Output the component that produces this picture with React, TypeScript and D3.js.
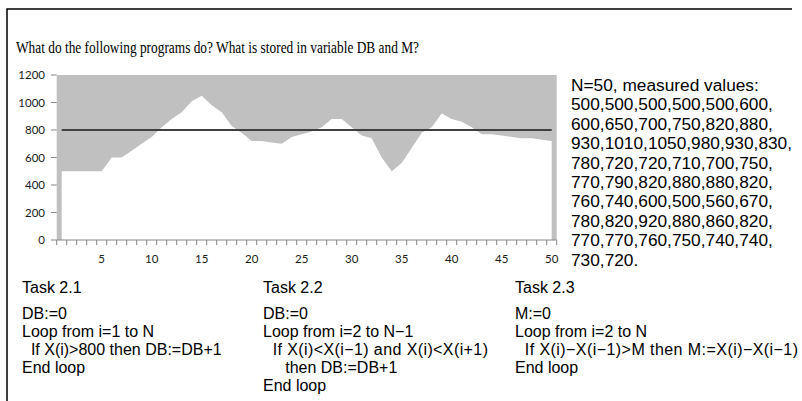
import React, { useEffect, useRef } from 'react';
import * as d3 from 'd3';

// measured values X(1..N)
const values = [
  500, 500, 500, 500, 500, 600,
  600, 650, 700, 750, 820, 880,
  930, 1010, 1050, 980, 930, 830,
  780, 720, 720, 710, 700, 750,
  770, 790, 820, 880, 880, 820,
  760, 740, 600, 500, 560, 670,
  780, 820, 920, 880, 860, 820,
  770, 770, 760, 750, 740, 740,
  730, 720,
];
const threshold = 800;
const yTicks = [0, 200, 400, 600, 800, 1000, 1200];
const xTickLabels = [5, 10, 15, 20, 25, 30, 35, 40, 45, 50];

const title = 'What do the following programs do? What is stored in variable DB and M?';

const tasks = [
  { name: 'Task 2.1', lines: ['DB:=0', 'Loop from i=1 to N', '  If X(i)>800 then DB:=DB+1', 'End loop'] },
  { name: 'Task 2.2', lines: ['DB:=0', 'Loop from i=2 to N\u22121', '  If X(i)<X(i\u22121) and X(i)<X(i+1)', '     then DB:=DB+1', 'End loop'] },
  { name: 'Task 2.3', lines: ['M:=0', 'Loop from i=2 to N', '  If X(i)\u2212X(i\u22121)>M then M:=X(i)\u2212X(i\u22121)', 'End loop'] },
];
// the long condition lines run a little wider in the original
const wideLines: Record<string, number> = {
  '  If X(i)<X(i\u22121) and X(i)<X(i+1)': 225,
  '  If X(i)\u2212X(i\u22121)>M then M:=X(i)\u2212X(i\u22121)': 283,
};

export default function App() {
  const ref = useRef<SVGSVGElement>(null);

  useEffect(() => {
    const svg = d3.select(ref.current);
    svg.selectAll('*').remove();

    // frame
    svg.append('path')
      .attr('d', 'M7,401V9H792')
      .attr('fill', 'none')
      .attr('stroke', '#000')
      .attr('stroke-width', 1.5);

    svg.append('text')
      .attr('x', 16).attr('y', 53)
      .attr('font-family', '"Liberation Serif", "Times New Roman", serif')
      .attr('font-size', 16.5)
      .attr('textLength', 403)
      .attr('lengthAdjust', 'spacingAndGlyphs')
      .text(title);

    // chart
    const cats = values.map((d, i) => i + 1);
    const x = d3.scaleBand<number>().domain(cats).range([56.7, 556.7]);
    const cx = (i: number) => (x(i) as number) + x.bandwidth() / 2;
    const y = d3.scaleLinear().domain([0, 1200]).range([240, 75]);

    const g = svg.append('g');

    g.append('rect')
      .attr('x', 56.7).attr('y', y(1200))
      .attr('width', 500).attr('height', y(0) - y(1200))
      .attr('fill', '#c0c0c0');

    const area = d3.area<number>()
      .x((d, i) => cx(i + 1))
      .y0(y(0))
      .y1((d) => y(d));

    g.append('path')
      .datum(values)
      .attr('d', area)
      .attr('fill', '#fff');

    g.append('line')
      .attr('x1', cx(1)).attr('x2', cx(values.length))
      .attr('y1', y(threshold)).attr('y2', y(threshold))
      .attr('stroke', '#404040')
      .attr('stroke-width', 2);

    // y axis
    yTicks.forEach((t) => {
      g.append('line')
        .attr('x1', 51).attr('x2', 56.7)
        .attr('y1', y(t)).attr('y2', y(t))
        .attr('stroke', '#868686');
      g.append('text')
        .attr('x', 45).attr('y', y(t)).attr('dy', '0.35em')
        .attr('text-anchor', 'end')
        .attr('font-family', 'Lato, "Liberation Sans", sans-serif')
        .attr('font-size', 11.5)
        .attr('fill', '#1a1a1a')
        .text(t);
    });

    // x axis
    g.append('line')
      .attr('x1', 56.7).attr('x2', 556.7)
      .attr('y1', y(0)).attr('y2', y(0))
      .attr('stroke', '#868686');
    for (let i = 0; i <= values.length; i++) {
      const xx = 56.7 + i * x.bandwidth();
      g.append('line')
        .attr('x1', xx).attr('x2', xx)
        .attr('y1', y(0)).attr('y2', y(0) + 5)
        .attr('stroke', '#868686');
    }
    xTickLabels.forEach((t) => {
      g.append('text')
        .attr('x', cx(t)).attr('y', 259).attr('dy', '0.35em')
        .attr('text-anchor', 'middle')
        .attr('font-family', 'Lato, "Liberation Sans", sans-serif')
        .attr('font-size', 11.5)
        .attr('fill', '#1a1a1a')
        .text(t);
    });

    // values listing on the right
    const rows: string[] = [`N=${values.length}, measured values:`];
    for (let i = 0; i < values.length; i += 6) {
      const chunk = values.slice(i, i + 6).join(',');
      rows.push(chunk + (i + 6 >= values.length ? '.' : ','));
    }
    svg.append('g').selectAll('text')
      .data(rows)
      .enter().append('text')
      .attr('x', 571)
      .attr('y', (d, i) => 91 + i * 19.4)
      .attr('font-family', '"Liberation Sans", Arial, sans-serif')
      .attr('font-size', 17.3)
      .text((d) => d);

    // task programs
    const colX = [22, 263, 515];
    tasks.forEach((task, k) => {
      const tg = svg.append('g');
      tg.append('text')
        .attr('x', colX[k]).attr('y', 293)
        .attr('font-family', '"Liberation Sans", Arial, sans-serif')
        .attr('font-size', 16)
        .text(task.name);
      tg.selectAll('.ln')
        .data(task.lines)
        .enter().append('text')
        .attr('class', 'ln')
        .attr('x', colX[k])
        .attr('y', (d, i) => 319 + i * 18)
        .attr('font-family', '"Liberation Sans", Arial, sans-serif')
        .attr('font-size', 16)
        .attr('textLength', (d) => wideLines[d] ?? null)
        .style('white-space', 'pre')
        .text((d) => d);
    });
  }, []);

  return (
    <svg
      ref={ref}
      width={802}
      height={401}
      style={{ position: 'absolute', left: 0, top: 0, background: '#fff' }}
    />
  );
}
